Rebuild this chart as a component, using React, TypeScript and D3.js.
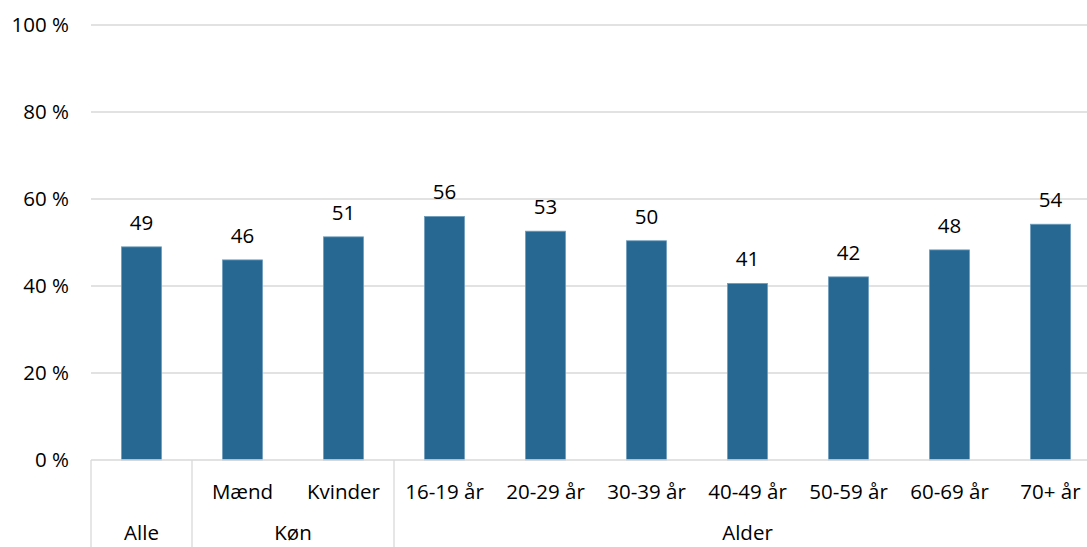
import React from 'react'
import * as d3 from 'd3'

// categories (lower row) and their group (upper row of the axis)
const categories = ['Alle', 'Mænd', 'Kvinder', '16-19 år', '20-29 år', '30-39 år', '40-49 år', '50-59 år', '60-69 år', '70+ år']
const subLabels = ['', 'Mænd', 'Kvinder', '16-19 år', '20-29 år', '30-39 år', '40-49 år', '50-59 år', '60-69 år', '70+ år']
const groupOf = ['Alle', 'Køn', 'Køn', 'Alder', 'Alder', 'Alder', 'Alder', 'Alder', 'Alder', 'Alder']
const values = [49, 46, 51.3, 56, 52.6, 50.4, 40.6, 42.1, 48.3, 54.2]
const yTicks = [0, 20, 40, 60, 80, 100]

const W = 1087
const H = 547
const FONT = '"Open Sans", sans-serif'
const FS = 20.5
const BAR = '#276893'
const GRID = '#d9d9d9'

export default function App() {
  const x = d3.scaleBand<string>()
    .domain(categories)
    .range([91, 1101])
    .paddingInner(0.604)
    .paddingOuter(0.302)
  const y = d3.scaleLinear().domain([0, 100]).range([460, 25])

  const step = x.step()
  const gap = (step - x.bandwidth()) / 2
  const edge = (c: string) => (x(c) ?? 0) - gap

  // group spans from consecutive categories
  const groups: { name: string; start: number; end: number }[] = []
  categories.forEach((c, i) => {
    const g = groupOf[i]
    const last = groups[groups.length - 1]
    if (last && last.name === g) last.end = edge(c) + step
    else groups.push({ name: g, start: edge(c), end: edge(c) + step })
  })

  return (
    <svg width={W} height={H} style={{ position: 'absolute', left: 0, top: 0, background: '#fff' }} fontFamily={FONT}>
      {/* gridlines + y labels */}
      {yTicks.map(t => (
        <g key={t}>
          {t > 0 && <line x1={91} x2={W} y1={y(t)} y2={y(t)} stroke={GRID} strokeWidth={1.3} />}
          <text x={69} y={y(t) + 7} textAnchor="end" fontSize={FS} fill="#000">{`${t} %`}</text>
        </g>
      ))}

      {/* bars */}
      {categories.map((c, i) => (
        <g key={c}>
          <rect x={x(c)} y={y(values[i])} width={x.bandwidth()} height={y(0) - y(values[i])}
            fill={BAR} stroke="#6f9dbd" strokeWidth={0.8} />
          <text x={(x(c) ?? 0) + x.bandwidth() / 2} y={y(values[i]) - 17} textAnchor="middle" fontSize={FS} fill="#000">
            {Math.round(values[i])}
          </text>
        </g>
      ))}

      {/* category axis */}
      <line x1={91} x2={W} y1={y(0)} y2={y(0)} stroke={GRID} strokeWidth={1.3} />
      {groups.map(g => (
        <g key={g.name}>
          <line x1={g.start} x2={g.start} y1={y(0)} y2={H} stroke={GRID} strokeWidth={1.3} />
          <text x={(g.start + g.end) / 2} y={540} textAnchor="middle" fontSize={FS} fill="#000">{g.name}</text>
        </g>
      ))}
      {categories.map((c, i) => (
        <text key={c} x={(x(c) ?? 0) + x.bandwidth() / 2} y={499} textAnchor="middle" fontSize={FS} fill="#000">
          {subLabels[i]}
        </text>
      ))}
    </svg>
  )
}
